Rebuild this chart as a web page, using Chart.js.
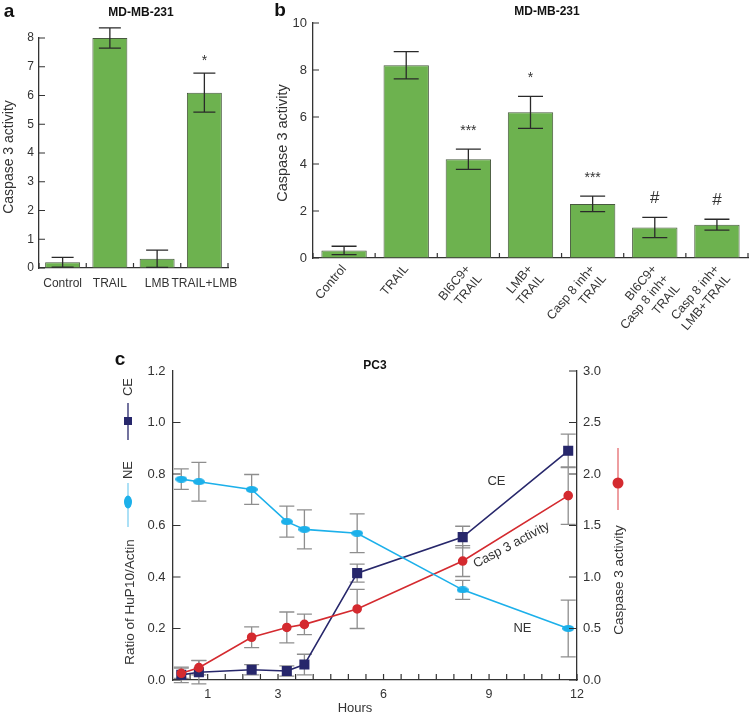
<!DOCTYPE html>
<html lang="en">
<head>
  <meta charset="UTF-8">
  <title>Caspase 3 activity</title>
  <script src="https://cdn.jsdelivr.net/npm/chart.js"></script>
  <style>
    body { margin: 0; background: #fff; width: 750px; height: 715px; position: relative; overflow: hidden; }
    canvas { position: absolute; }
  </style>
</head>
<body>
  <canvas id="chartA" width="250" height="300" style="left:0;top:0"></canvas>
  <canvas id="chartB" width="490" height="345" style="left:260px;top:0"></canvas>
  <canvas id="chartC" width="750" height="370" style="left:0;top:345px"></canvas>

  <script>
    // panel a - MD-MB-231
    const catsA = ['Control', 'TRAIL', 'LMB', 'TRAIL+LMB'];
    const valsA = [0.2, 8.0, 0.32, 6.1];
    const errA = [0.17, 0.35, 0.3, 0.68];
    const marksA = ['', '', '', '*'];

    // panel b - MD-MB-231
    const catsB = ['Control', 'TRAIL', ['BI6C9+', 'TRAIL'], ['LMB+', 'TRAIL'], ['Casp 8 inh+', 'TRAIL'],
                   ['BI6C9+', 'Casp 8 inh+', 'TRAIL'], ['Casp 8 inh+', 'LMB+TRAIL']];
    const valsB = [0.32, 8.2, 4.2, 6.2, 2.3, 1.3, 1.42];
    const errB = [0.18, 0.58, 0.43, 0.68, 0.33, 0.43, 0.23];
    const marksB = ['', '', '***', '*', '***', '#', '#'];

    // panel c - PC3
    const hours = [0.25, 0.75, 2.25, 3.25, 3.75, 5.25, 8.25, 11.25];
    const ceVals = [0.02, 0.03, 0.04, 0.035, 0.06, 0.415, 0.555, 0.89];
    const ceErr = [0.03, 0.045, 0.02, 0.02, 0.04, 0.035, 0.042, 0.065];
    const neVals = [0.78, 0.77, 0.74, 0.615, 0.585, 0.57, 0.35, 0.2];
    const neErr = [0.04, 0.075, 0.058, 0.06, 0.076, 0.075, 0.037, 0.11];
    const caspVals = [0.065, 0.12, 0.415, 0.51, 0.54, 0.69, 1.155, 1.79];
    const caspErr = [0.05, 0.07, 0.1, 0.15, 0.1, 0.19, 0.15, 0.28];
    const hourTicks = [1, 3, 6, 9, 11.5];
    const hourTickText = ['1', '3', '6', '9', '12'];

    const green = '#6db24f';
    const barEdge = '#48593f';
    const navy = '#27276b';
    const cyan = '#1cb0ea';
    const red = '#d42a2f';
    const FONT = "'Liberation Sans', Arial, sans-serif";

    Chart.defaults.font.family = FONT;
    Chart.defaults.color = '#333';

    // per-canvas extras (kept out of chart options so Chart.js does not proxy them)
    const extras = {
      chartA: {
        ticks: [{ id: 'x', between: true, len: 5 }, { id: 'y', len: 6 }],
        texts: [
          { t: 'a', x: 9, y: 12, font: 'bold 19px ' + FONT, color: '#111' },
          { t: 'MD-MB-231', x: 141, y: 13, font: 'bold 12px ' + FONT, color: '#111' },
          { t: 'Caspase 3 activity', x: 9, y: 157, rot: -90, font: '14px ' + FONT }
        ],
        glyphs: []
      },
      chartB: {
        ticks: [{ id: 'x', between: true, len: 5 }, { id: 'y', len: 6 }],
        texts: [
          { t: 'b', x: 20, y: 11, font: 'bold 19px ' + FONT, color: '#111' },
          { t: 'MD-MB-231', x: 287, y: 12, font: 'bold 12px ' + FONT, color: '#111' },
          { t: 'Caspase 3 activity', x: 23, y: 143, rot: -90, font: '14.5px ' + FONT }
        ],
        glyphs: []
      },
      chartC: {
        ticks: [
          { id: 'x', len: 6, skip: [0] },
          { id: 'y', len: 8, skip: [1.2] },
          { id: 'y2', len: 8 }
        ],
        texts: [
          { t: 'c', x: 120, y: 15, font: 'bold 19px ' + FONT, color: '#111' },
          { t: 'PC3', x: 375, y: 21, font: 'bold 12px ' + FONT, color: '#111' },
          { t: 'CE', x: 128, y: 42, rot: -90, font: '13px ' + FONT },
          { t: 'NE', x: 128, y: 125, rot: -90, font: '13px ' + FONT },
          { t: 'Ratio of HuP10/Actin', x: 130, y: 257, rot: -90, font: '13.5px ' + FONT },
          { t: 'Caspase 3 activity', x: 619, y: 235, rot: -90, font: '13.5px ' + FONT },
          { t: 'Hours', x: 355, y: 363, font: '13px ' + FONT },
          { t: 'CE', at: [9.21, 0.773, 'y'], font: '13px ' + FONT },
          { t: 'Casp 3 activity', at: [9.64, 0.524, 'y'], rot: -28, font: '13px ' + FONT },
          { t: 'NE', at: [9.95, 0.202, 'y'], font: '13px ' + FONT }
        ],
        glyphs: [
          { shape: 'rect', x: 128, y: 76, w: 8, h: 8, y0: 58, y1: 95, color: navy, line: navy },
          { shape: 'ellipse', x: 128, y: 157, w: 8, h: 13, y0: 138, y1: 182, color: cyan, line: '#7fd0f2' },
          { shape: 'ellipse', x: 618, y: 138, w: 11, h: 11, y0: 103, y1: 165, color: red, line: '#e56a6e' }
        ]
      }
    };

    // error bars drawn from the dataset's own scale
    const errorBars = {
      id: 'errorBars',
      beforeDatasetsDraw(chart, args, opts) { if (opts.behind) drawErrors(chart, opts); },
      afterDatasetsDraw(chart, args, opts) { if (!opts.behind) drawErrors(chart, opts); }
    };
    function drawErrors(chart, opts) {
      const ctx = chart.ctx;
      chart.data.datasets.forEach((ds, i) => {
        if (!ds.errors) return;
        const meta = chart.getDatasetMeta(i);
        const ys = chart.scales[meta.yAxisID];
        ctx.save();
        ctx.strokeStyle = opts.color;
        ctx.lineWidth = opts.width;
        meta.data.forEach((el, j) => {
          const v = typeof ds.data[j] === 'object' ? ds.data[j].y : ds.data[j];
          const e = ds.errors[j];
          const t = ys.getPixelForValue(v + e), b = ys.getPixelForValue(v - e);
          const c = opts.cap / 2;
          ctx.beginPath();
          ctx.moveTo(el.x, t); ctx.lineTo(el.x, b);
          ctx.moveTo(el.x - c, t); ctx.lineTo(el.x + c, t);
          ctx.moveTo(el.x - c, b); ctx.lineTo(el.x + c, b);
          ctx.stroke();
        });
        ctx.restore();
      });
    }

    // significance marks above the bars
    const barMarks = {
      id: 'barMarks',
      afterDatasetsDraw(chart, args, opts) {
        const ctx = chart.ctx;
        const ds = chart.data.datasets[0];
        const meta = chart.getDatasetMeta(0);
        const ys = chart.scales.y;
        ctx.save();
        ctx.fillStyle = '#333';
        ctx.textAlign = 'center';
        ctx.textBaseline = 'alphabetic';
        meta.data.forEach((el, i) => {
          const m = ds.marks[i];
          if (!m) return;
          ctx.font = (m.includes('#') ? opts.hashSize : opts.starSize) + 'px ' + FONT;
          ctx.fillText(m, el.x, ys.getPixelForValue(ds.data[i] + ds.errors[i]) - opts.gap);
        });
        ctx.restore();
      }
    };

    // tick marks pointing into the plot
    const innerTicks = {
      id: 'innerTicks',
      afterDraw(chart) {
        const ctx = chart.ctx;
        ctx.save();
        ctx.strokeStyle = '#333';
        ctx.lineWidth = 1.2;
        extras[chart.canvas.id].ticks.forEach(a => {
          const s = chart.scales[a.id];
          let pos = [];
          if (a.between) {
            const n = chart.data.labels.length;
            for (let i = 0; i <= n; i++) pos.push(s.left + i * s.width / n);
          } else {
            pos = s.ticks
              .filter(t => !(a.skip || []).some(k => Math.abs(k - t.value) < 1e-6))
              .map(t => s.getPixelForValue(t.value));
          }
          ctx.beginPath();
          pos.forEach(p => {
            if (s.position === 'bottom') { ctx.moveTo(p, s.top); ctx.lineTo(p, s.top - a.len); }
            else if (s.position === 'left') { ctx.moveTo(s.right, p); ctx.lineTo(s.right + a.len, p); }
            else { ctx.moveTo(s.left, p); ctx.lineTo(s.left - a.len, p); }
          });
          ctx.stroke();
        });
        ctx.restore();
      }
    };

    // titles, panel letters, in-plot labels and the side keys
    const overlay = {
      id: 'overlay',
      afterDraw(chart) {
        const ctx = chart.ctx;
        const ex = extras[chart.canvas.id];
        ex.texts.forEach(it => {
          let x = it.x, y = it.y;
          if (it.at) {
            x = chart.scales.x.getPixelForValue(it.at[0]);
            y = chart.scales[it.at[2]].getPixelForValue(it.at[1]);
          }
          ctx.save();
          ctx.translate(x, y);
          if (it.rot) ctx.rotate(it.rot * Math.PI / 180);
          ctx.font = it.font;
          ctx.fillStyle = it.color || '#333';
          ctx.textAlign = 'center';
          ctx.textBaseline = 'middle';
          ctx.fillText(it.t, 0, 0);
          ctx.restore();
        });
        ex.glyphs.forEach(g => {
          ctx.save();
          ctx.strokeStyle = g.line;
          ctx.fillStyle = g.color;
          ctx.lineWidth = 1.3;
          ctx.beginPath(); ctx.moveTo(g.x, g.y0); ctx.lineTo(g.x, g.y1); ctx.stroke();
          ctx.beginPath();
          if (g.shape === 'rect') ctx.rect(g.x - g.w / 2, g.y - g.h / 2, g.w, g.h);
          else ctx.ellipse(g.x, g.y, g.w / 2, g.h / 2, 0, 0, Math.PI * 2);
          ctx.fill();
          ctx.restore();
        });
      }
    };

    function ellipseImg(w, h, color) {
      const c = document.createElement('canvas');
      c.width = w; c.height = h;
      const g = c.getContext('2d');
      g.fillStyle = color;
      g.beginPath(); g.ellipse(w / 2, h / 2, w / 2, h / 2, 0, 0, Math.PI * 2); g.fill();
      return c;
    }

    const axisBorder = { color: '#333', width: 1.3 };
    const noGrid = { display: false, drawTicks: false };

    function barChart(id, cats, vals, errs, marks, o) {
      return new Chart(document.getElementById(id), {
        type: 'bar',
        data: {
          labels: cats,
          datasets: [{
            data: vals, errors: errs, marks: marks,
            backgroundColor: green, borderColor: barEdge, borderWidth: 1, borderSkipped: false,
            barPercentage: o.barPct, categoryPercentage: 1
          }]
        },
        options: {
          responsive: false,
          animation: false,
          layout: { padding: { top: o.top, right: o.right, left: 0, bottom: 0 } },
          plugins: {
            legend: { display: false },
            tooltip: { enabled: false },
            errorBars: { color: '#2a2a2a', width: 1.3, cap: o.cap },
            barMarks: { gap: o.gap, starSize: 14, hashSize: 17 }
          },
          scales: {
            x: {
              grid: noGrid, border: axisBorder,
              ticks: { font: { size: o.xFont }, color: '#333', padding: o.xPad, maxRotation: o.rot, minRotation: o.rot, autoSkip: false },
              afterFit: s => { s.height = o.xH; }
            },
            y: {
              min: 0, max: o.max,
              grid: noGrid, border: axisBorder,
              ticks: { stepSize: o.step, padding: o.yPad, font: { size: o.yFont }, color: '#333' },
              afterFit: s => { s.width = o.yW; }
            }
          }
        },
        plugins: [errorBars, barMarks, innerTicks, overlay]
      });
    }

    barChart('chartA', catsA, valsA, errA, marksA, {
      barPct: 0.74, top: 38, right: 22, cap: 22, gap: 8, xPad: 8, xFont: 12, rot: 0, xH: 32,
      max: 8, step: 1, yPad: 5, yFont: 12, yW: 39
    });

    barChart('chartB', catsB, valsB, errB, marksB, {
      barPct: 0.73, top: 23, right: 2, cap: 25, gap: 14, xPad: 4, xFont: 12.5, rot: 50, xH: 87,
      max: 10, step: 2, yPad: 6, yFont: 13, yW: 53
    });

    const pts = vals => hours.map((h, i) => ({ x: h, y: vals[i] }));

    new Chart(document.getElementById('chartC'), {
      type: 'line',
      data: {
        datasets: [
          {
            label: 'NE', data: pts(neVals), errors: neErr, yAxisID: 'y',
            borderColor: cyan, borderWidth: 1.6, pointStyle: ellipseImg(12, 7, cyan)
          },
          {
            label: 'Casp 3 activity', data: pts(caspVals), errors: caspErr, yAxisID: 'y2',
            borderColor: red, borderWidth: 1.6, pointStyle: 'circle', pointRadius: 4,
            pointBackgroundColor: red, pointBorderColor: red
          },
          {
            label: 'CE', data: pts(ceVals), errors: ceErr, yAxisID: 'y',
            borderColor: navy, borderWidth: 1.6, pointStyle: 'rect', pointRadius: 6,
            pointBackgroundColor: navy, pointBorderColor: navy
          }
        ]
      },
      options: {
        responsive: false,
        animation: false,
        clip: false,
        layout: { padding: { top: 26, right: 0, left: 0, bottom: 0 } },
        plugins: {
          legend: { display: false },
          tooltip: { enabled: false },
          errorBars: { color: '#8e8e8e', width: 1.3, cap: 15, behind: true }
        },
        scales: {
          x: {
            type: 'linear', min: 0, max: 11.5,
            grid: noGrid, border: axisBorder,
            ticks: {
              stepSize: 0.5, autoSkip: false, maxRotation: 0, padding: 7,
              font: { size: 12.5 }, color: '#333',
              callback: v => {
                const k = hourTicks.findIndex(h => Math.abs(h - v) < 1e-6);
                return k < 0 ? '' : hourTickText[k];
              }
            },
            afterFit: s => { s.height = 35; }
          },
          y: {
            position: 'left', min: 0, max: 1.2,
            grid: noGrid, border: axisBorder,
            ticks: { stepSize: 0.2, padding: 7, font: { size: 13 }, color: '#333', callback: v => v.toFixed(1) },
            afterFit: s => { s.width = 172.5; }
          },
          y2: {
            position: 'right', min: 0, max: 3,
            grid: noGrid, border: axisBorder,
            ticks: { stepSize: 0.5, padding: 6, font: { size: 13 }, color: '#333', callback: v => v.toFixed(1) },
            afterFit: s => { s.width = 173; }
          }
        }
      },
      plugins: [errorBars, innerTicks, overlay]
    });
  </script>
</body>
</html>
